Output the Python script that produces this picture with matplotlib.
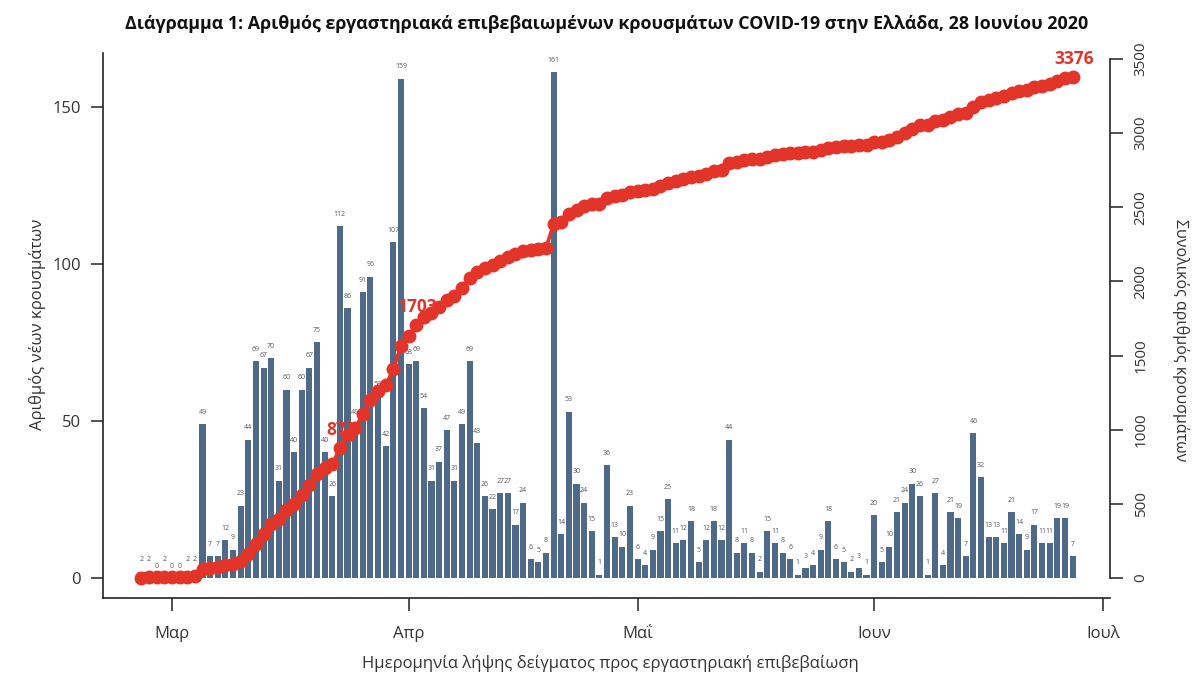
import matplotlib.pyplot as plt
import pandas as pd

plt.rcParams['font.family'] = ['Open Sans', 'DejaVu Sans']

# daily lab-confirmed cases, 26 Feb - 27 Jun 2020
new_cases = [2, 2, 0, 2, 0, 0, 2, 2,
             49, 7, 7, 12, 9, 23, 44, 69, 67, 70,
             31, 60, 40, 60, 67, 75, 40, 26,
             112, 86, 49, 91, 96, 58, 42, 107, 159,
             68, 69, 54, 31, 37, 47, 31, 49, 69, 43,
             26, 22, 27, 27, 17, 24, 6, 5, 8,
             161, 14, 53, 30, 24, 15, 1,
             36, 13, 10, 23, 6, 4, 9, 15, 25, 11, 12, 18,
             5, 12, 18, 12, 44, 8, 11, 8, 2, 15, 11, 8, 6, 1,
             3, 4, 9, 18, 6, 5, 2, 3, 1,
             20, 5, 10, 21, 24, 30, 26, 1, 27, 4, 21, 19, 7,
             46, 32, 13, 13, 11, 21, 14, 9, 17, 11, 11, 19, 19, 7]
start_date = "2020-02-26"

month_ticks = ["2020-03-01", "2020-04-01", "2020-05-01", "2020-06-01", "2020-07-01"]
month_labels = ["Μαρ", "Απρ", "Μαΐ", "Ιουν", "Ιουλ"]

# highlighted points on the cumulative line
highlight_idx = [26, 36, 122]
highlight_text = ["873", "1703", "3376"]

bar_col = "#4f6a89"
red = "#e3342a"
txt_col = "#333333"

dates = pd.date_range(start_date, periods=len(new_cases), freq="D")
total = pd.Series(new_cases).cumsum().values

fig = plt.figure(figsize=(12, 6.75), dpi=100)
ax = fig.add_axes([103/1200, 1 - 598/675, (1110 - 103)/1200, (598 - 53)/675])

ax.bar(dates, new_cases, width=0.8, color=bar_col, zorder=2)
for d, v in zip(dates, new_cases):
    ax.annotate(str(v), (d, v), xytext=(0, 8.5), textcoords="offset points",
                ha="center", va="center", fontsize=5, color="#555555")

mar1 = pd.Timestamp("2020-03-01")
ax.set_xlim(mar1 - pd.Timedelta(days=9.04), mar1 + pd.Timedelta(days=122.9))
ax.set_ylim(-6.4, 167.2)
ax.set_yticks([0, 50, 100, 150])
ax.set_xticks(pd.to_datetime(month_ticks))
ax.set_xticklabels(month_labels)

for s in ["top", "right"]:
    ax.spines[s].set_visible(False)
for s in ["left", "bottom"]:
    ax.spines[s].set_color("#222222")
    ax.spines[s].set_linewidth(1.2)
ax.tick_params(axis="y", length=9, width=1.2, pad=7, labelsize=12, colors=txt_col)
ax.tick_params(axis="x", length=9, width=1.2, pad=11, labelsize=12, colors=txt_col)

ax2 = ax.twinx()
ax2.plot(dates, total, color=red, lw=2.6, marker="o", ms=9, zorder=3)
ax2.set_ylim(-135, 3540)
ax2.set_yticks(range(0, 3501, 500))
for s in ["top", "left", "bottom"]:
    ax2.spines[s].set_visible(False)
ax2.spines["right"].set_bounds(0, 3500)
ax2.spines["right"].set_color("#222222")
ax2.spines["right"].set_linewidth(1.2)
ax2.tick_params(axis="y", length=9, width=1.2, pad=8, labelsize=11, colors=txt_col)
for lab in ax2.get_yticklabels():
    lab.set_rotation(90)
    lab.set_va("center")

for i, t in zip(highlight_idx, highlight_text):
    ax2.annotate(t, (dates[i], total[i]), xytext=(1, 13), textcoords="offset points",
                 ha="center", va="center", fontsize=12.5, fontweight="bold", color=red,
                 zorder=5)

fig.text(607/1200, 1 - 24/675,
         "Διάγραμμα 1: Αριθμός εργαστηριακά επιβεβαιωμένων κρουσμάτων COVID-19 στην Ελλάδα, 28 Ιουνίου 2020",
         ha="center", va="center", fontsize=12.9, fontweight="bold", color="#111111")
fig.text(38/1200, 1 - 324/675, "Αριθμός νέων κρουσμάτων", rotation=90,
         ha="center", va="center", fontsize=12, color=txt_col)
fig.text(1180/1200, 1 - 340/675, "Συνολικός αριθμός κρουσμάτων", rotation=270,
         ha="center", va="center", fontsize=11.5, color=txt_col)
fig.text(610/1200, 1 - 664/675, "Ημερομηνία λήψης δείγματος προς εργαστηριακή επιβεβαίωση",
         ha="center", va="center", fontsize=12, color=txt_col)

fig.savefig("out.png", dpi=100, facecolor="white")
